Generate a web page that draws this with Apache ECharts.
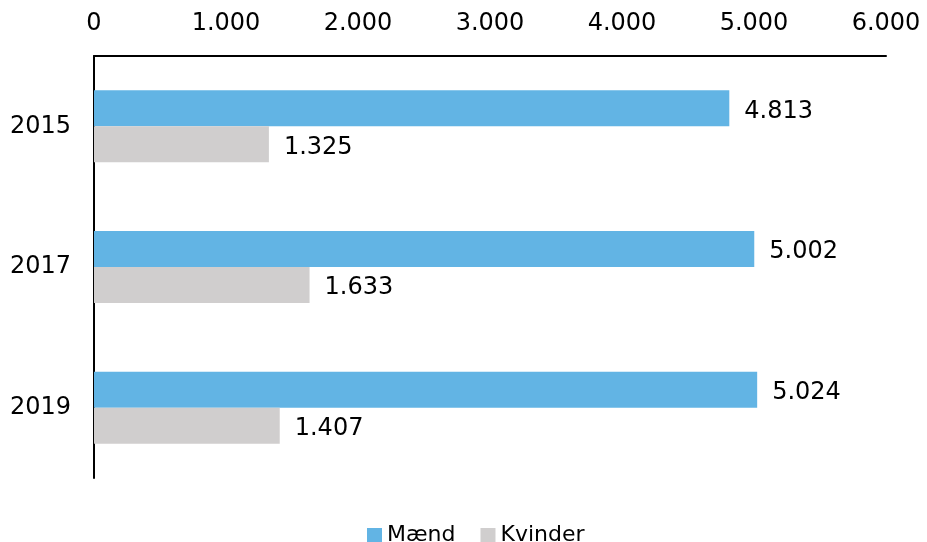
<!DOCTYPE html>
<html>
<head>
<meta charset="utf-8">
<script src="https://cdn.jsdelivr.net/npm/echarts@6/dist/echarts.min.js"></script>
<style>
  html, body { margin: 0; padding: 0; background: #fff; }
  #chart { width: 927px; height: 542px; }
</style>
</head>
<body>
<div id="chart"></div>
<script>
const years = ['2015', '2017', '2019']
const maend = [4813, 5002, 5024]
const kvinder = [1325, 1633, 1407]
const xTicks = [0, 1000, 2000, 3000, 4000, 5000, 6000]

const font = 'Verdana, "DejaVu Sans", sans-serif'
const fmt = v => String(v).replace(/\B(?=(\d{3})+(?!\d))/g, '.')

const chart = echarts.init(document.getElementById('chart'), null, { renderer: 'canvas' })

const labelStyle = {
  show: true,
  position: 'right',
  distance: 15,
  offset: [0, 3],
  color: '#000',
  fontFamily: font,
  fontSize: 24,
  formatter: p => fmt(p.value)
}

chart.setOption({
  animation: false,
  grid: { left: 94, right: 41, top: 56, bottom: 64, containLabel: false },
  legend: {
    top: 519,
    left: 362,
    itemWidth: 15,
    itemHeight: 14,
    itemGap: 25,
    icon: 'rect',
    textStyle: { fontFamily: font, fontSize: 22, color: '#000' },
    data: ['Mænd', 'Kvinder']
  },
  xAxis: {
    type: 'value',
    position: 'top',
    min: xTicks[0],
    max: xTicks[xTicks.length - 1],
    interval: 1000,
    axisLine: { show: true, lineStyle: { color: '#000', width: 2 } },
    axisTick: { show: false },
    splitLine: { show: false },
    axisLabel: {
      margin: 20,
      color: '#000',
      fontFamily: font,
      fontSize: 24,
      formatter: v => fmt(v)
    }
  },
  yAxis: {
    type: 'category',
    inverse: true,
    data: years,
    axisLine: { show: true, lineStyle: { color: '#000', width: 2 } },
    axisTick: { show: false },
    axisLabel: { margin: 23, padding: [6, 0, 0, 0], color: '#000', fontFamily: font, fontSize: 24 }
  },
  series: [
    {
      name: 'Mænd',
      type: 'bar',
      data: maend,
      barWidth: 36,
      barGap: '0%',
      itemStyle: { color: '#62B4E4' },
      label: labelStyle
    },
    {
      name: 'Kvinder',
      type: 'bar',
      data: kvinder,
      barWidth: 36,
      barGap: '0%',
      itemStyle: { color: '#D0CECE' },
      label: labelStyle
    }
  ]
})
</script>
</body>
</html>
